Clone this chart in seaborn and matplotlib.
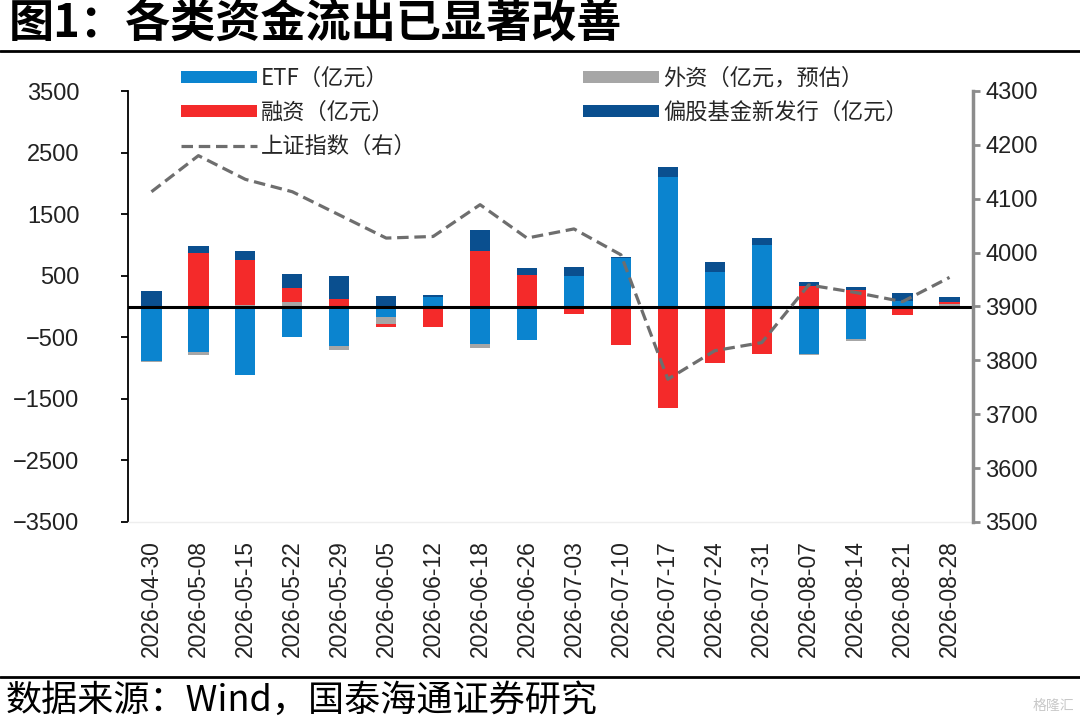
import numpy as np
import matplotlib
matplotlib.use('Agg')
import matplotlib.pyplot as plt
import seaborn as sns
from matplotlib.lines import Line2D

dates = ['2026-04-30', '2026-05-08', '2026-05-15', '2026-05-22', '2026-05-29', '2026-06-05',
         '2026-06-12', '2026-06-18', '2026-06-26', '2026-07-03', '2026-07-10', '2026-07-17',
         '2026-07-24', '2026-07-31', '2026-08-07', '2026-08-14', '2026-08-21', '2026-08-28']
etf = [-880, -745, -1110, -500, -640, -170, 150, -610, -540, 490, 785, 2110, 555, 995, -765, -535, 85, 0]
foreign = [-15, -40, 30, 80, -65, -110, 0, -70, 10, 0, 0, 0, 0, 0, -15, -25, 0, 40]
margin = [0, 865, 730, 225, 120, -50, -340, 905, 500, -125, -630, -1650, -915, -765, 330, 275, -135, 27]
fund = [255, 110, 135, 215, 380, 175, 40, 335, 110, 150, 20, 150, 170, 115, 65, 35, 135, 80]
sh_index = [4113, 4180, 4136, 4113, 4070, 4027, 4030, 4089, 4027, 4044, 3996, 3765,
            3818, 3833, 3940, 3926, 3909, 3954]

series = [
    ('ETF（亿元）', etf, '#0b84cf'),
    ('外资（亿元，预估）', foreign, '#a6a6a6'),
    ('融资（亿元）', margin, '#f42a2a'),
    ('偏股基金新发行（亿元）', fund, '#0a4f8f'),
]

sns.set_theme(style='ticks')
plt.rcParams['font.family'] = ['Liberation Sans', 'Noto Sans CJK SC', 'DejaVu Sans']
cjk = ['Noto Sans CJK SC', 'DejaVu Sans']

fig = plt.figure(figsize=(10.8, 7.23), dpi=100)
ax = fig.add_axes([128 / 1080, 1 - 522 / 723, (973 - 128) / 1080, (522 - 91) / 723])

x = np.arange(len(dates))
pos_base = np.zeros(len(dates))
neg_base = np.zeros(len(dates))
bars = {}
for name, vals, color in series:
    v = np.array(vals, dtype=float)
    bottom = np.where(v >= 0, pos_base, neg_base)
    bars[name] = ax.bar(x, v, bottom=bottom, width=0.43, color=color, label=name,
                        linewidth=0, zorder=2)
    pos_base += np.where(v > 0, v, 0)
    neg_base += np.where(v < 0, v, 0)

ax.axhline(0, color='black', lw=2.2, zorder=3)
ax.set_xlim(-0.5, len(dates) - 0.5)
ax.set_ylim(-3500, 3500)
ax.set_yticks(np.arange(-3500, 3501, 1000))
ax.set_xticks(x)
ax.set_xticklabels(dates, rotation=90, fontsize=16.5, color='#222222')
ax.tick_params(axis='x', length=0, pad=13)
ax.tick_params(axis='y', labelsize=17, length=5, width=1.3, color='black', pad=30, labelcolor='#222222')
ax.spines['top'].set_visible(False)
ax.spines['right'].set_visible(False)
ax.spines['left'].set_color('black')
ax.spines['left'].set_linewidth(1.3)
ax.spines['bottom'].set_color('#eeeeee')
ax.spines['bottom'].set_linewidth(1)

ax2 = ax.twinx()
sns.lineplot(x=x, y=sh_index, ax=ax2, color='#6e6e6e', lw=2.3,
             linestyle=(0, (3.6, 1.8)), label='上证指数（右）', legend=False, zorder=4)
ax2.set_ylim(3500, 4300)
ax2.set_yticks(np.arange(3500, 4301, 100))
ax2.tick_params(axis='y', labelsize=17, length=5, width=2, color='#8c8c8c', pad=4, labelcolor='#222222')
for s in ['top', 'left', 'bottom']:
    ax2.spines[s].set_visible(False)
ax2.spines['right'].set_color('#8c8c8c')
ax2.spines['right'].set_linewidth(2.5)
ax2.set_ylabel('')

line_handle = ax2.lines[0]
handles = [bars['ETF（亿元）'], bars['融资（亿元）'], line_handle,
           bars['外资（亿元，预估）'], bars['偏股基金新发行（亿元）']]
labels = ['ETF（亿元）', '融资（亿元）', '上证指数（右）', '外资（亿元，预估）', '偏股基金新发行（亿元）']
fig.legend(handles, labels, loc='upper left', bbox_to_anchor=(181 / 1080, 1 - 67 / 723),
           ncol=2, frameon=False, prop={'family': cjk, 'size': 16},
           handlelength=3.4, handleheight=0.45, handletextpad=0.2,
           columnspacing=7.5, labelspacing=0.5, borderpad=0, borderaxespad=0)

fig.text(0.008, 1 - 25 / 723, '图1：各类资金流出已显著改善', fontsize=32.5, fontweight='bold',
         family=cjk, va='center', ha='left', color='black')
fig.add_artist(Line2D([0, 1], [1 - 51 / 723] * 2, color='black', lw=2))
fig.add_artist(Line2D([0, 1], [1 - 677 / 723] * 2, color='black', lw=2))
fig.text(0.005, 1 - 701 / 723, '数据来源：Wind，国泰海通证券研究', fontsize=26,
         family=cjk, va='center', ha='left', color='black')
fig.text(0.995, 1 - 706 / 723, '格隆汇', fontsize=10, family=cjk, va='center', ha='right',
         color='#c8c8c8')

fig.savefig('out.png', dpi=100)
